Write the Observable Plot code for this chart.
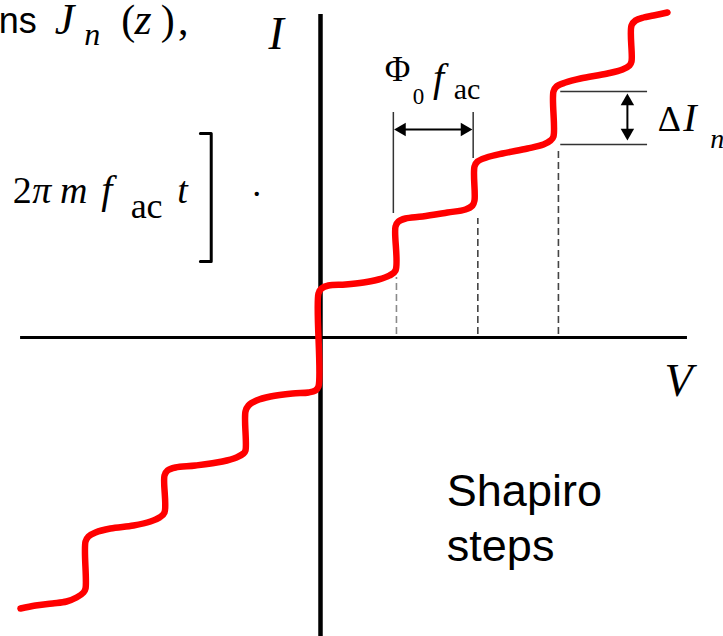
<!DOCTYPE html>
<html>
<head>
<meta charset="utf-8">
<script src="https://cdn.jsdelivr.net/npm/d3@7"></script>
<script src="https://cdn.jsdelivr.net/npm/@observablehq/plot@0.6"></script>
<style>
  html, body { margin: 0; padding: 0; background: #fff; }
  #chart { width: 723px; height: 636px; overflow: hidden; }
  #chart svg { display: block; overflow: hidden; }
</style>
</head>
<body>
<div id="chart"></div>
<script>
// I–V characteristic of a Josephson junction under microwave drive:
// V in units of Φ0·f_ac (one Shapiro step per unit), I in arbitrary units.
// Each row is one plateau, ending at the foot of the next vertical step.
const curveV = [
  -3.871, -3.677, -3.458, -3.277, -3.148, -3.058, -3.032,
  -3.032, -2.994, -2.903, -2.710, -2.413, -2.194, -2.077, -2.013,
  -2.013, -1.974, -1.871, -1.613, -1.265, -1.084, -0.994, -0.968,
  -0.968, -0.929, -0.826, -0.645, -0.361, -0.155, -0.065, -0.026,
  -0.026, 0.013, 0.103, 0.323, 0.555, 0.748, 0.890, 0.968,
  0.968, 1.006, 1.097, 1.316, 1.639, 1.871, 1.961, 1.987,
  1.987, 2.026, 2.142, 2.348, 2.671, 2.877, 2.968, 3.006,
  3.006, 3.045, 3.161, 3.355, 3.703, 3.897, 3.987, 4.013,
  4.013, 4.065, 4.168, 4.297, 4.477
];
const curveI = [
  -5.42, -5.36, -5.32, -5.28, -5.20, -5.10, -5.02,
  -4.08, -3.98, -3.90, -3.82, -3.76, -3.68, -3.60, -3.50,
  -2.76, -2.66, -2.60, -2.56, -2.48, -2.40, -2.32, -2.26,
  -1.48, -1.36, -1.26, -1.18, -1.12, -1.10, -1.06, -0.98,
  0.88, 0.98, 1.04, 1.06, 1.10, 1.16, 1.24, 1.34,
  2.22, 2.32, 2.38, 2.42, 2.50, 2.56, 2.64, 2.74,
  3.42, 3.52, 3.60, 3.68, 3.78, 3.86, 3.94, 4.02,
  4.92, 5.02, 5.10, 5.18, 5.28, 5.36, 5.44, 5.52,
  6.24, 6.34, 6.40, 6.44, 6.50
];

// Step voltages marked with dashed drop lines, and the current at the foot of each step
const guideV = [0.98, 2.03, 3.07];
const guideTopI = [1.20, 2.38, 3.80];
const guideColor = ["#8a8a8a", "#444", "#444"];

// Φ0·f_ac spacing marker (between steps 1 and 2)
const spacingV = [0.94, 1.97];
const spacingTopI = 4.50;
const spacingBottomI = [2.48, 3.58];
const spacingArrowI = 4.16;

// ΔI_n height marker (step 3)
const heightI = [4.92, 3.86];
const heightV = [3.10, 4.22];
const heightArrowV = 3.96;
const heightArrowI = [4.88, 3.94];

// Axis extents
const axisV = [-3.87, 4.735];
const axisI = [-6.2, 6.46];

const ivCurve = curveV.map((v, i) => ({V: v, I: curveI[i]}));
const guides = guideV.map((v, i) => ({V: v, top: guideTopI[i], color: guideColor[i]}));

// Filled arrow heads: the dot sits one centroid-offset behind each tip
const headBackV = 0.10, headBackI = 0.155;
const arrowHeads = [
  {V: spacingV[0] + 0.01 + headBackV, I: spacingArrowI, rotate: -90},
  {V: spacingV[1] - 0.01 - headBackV, I: spacingArrowI, rotate: 90},
  {V: heightArrowV, I: heightArrowI[0] - headBackI, rotate: 0},
  {V: heightArrowV, I: heightArrowI[1] + headBackI, rotate: 180}
];

const serif = "'Liberation Serif', 'DejaVu Serif', serif";
const sans = "'Liberation Sans', Arial, sans-serif";

// Text pieces: [text, V, I (baseline), size, italic]
const mathLabels = [
  // I and V axis names
  ["I", -0.67, 5.78, 46, true],
  ["V", 4.44, -1.16, 46, true],
  // Φ0 f_ac
  ["Φ", 0.83, 5.14, 35, false],
  ["0", 1.19, 4.68, 23, false],
  ["f", 1.45, 4.94, 40, true],
  ["ac", 1.72, 4.78, 30, false],
  // ΔI_n
  ["Δ", 4.35, 4.14, 36, false],
  ["I", 4.68, 4.14, 40, true],
  ["n", 5.03, 3.80, 28, true],
  // J_n(z),
  ["J", -3.43, 6.08, 44, true],
  ["n", -3.05, 5.86, 32, true],
  ["(", -2.57, 6.08, 42, false],
  ["z", -2.40, 6.08, 44, true],
  [")", -2.06, 6.08, 42, false],
  [",", -1.84, 6.08, 42, false],
  // 2π m f_ac t ] .
  ["2", -3.97, 2.70, 38, false],
  ["π", -3.72, 2.70, 38, true],
  ["m", -3.36, 2.70, 38, true],
  ["f", -2.83, 2.70, 40, true],
  ["ac", -2.45, 2.40, 36, false],
  ["t", -1.85, 2.70, 38, true],
  [".", -0.88, 2.84, 36, false]
].map(([text, V, I, size, italic]) => ({text, V, I, size, italic}));

const bracket = [
  {V: -1.55, I: 4.08}, {V: -1.41, I: 4.08},
  {V: -1.41, I: 1.52}, {V: -1.55, I: 1.52}
];

const chart = Plot.plot({
  width: 723,
  height: 636,
  margin: 0,
  x: {domain: [-320 / 77.5, 403 / 77.5], axis: null},
  y: {domain: [-299 / 50, 337 / 50], axis: null},
  marks: [
    // axes
    Plot.ruleY([0], {x1: axisV[0], x2: axisV[1], stroke: "#000", strokeWidth: 3}),
    Plot.ruleX([0], {y1: axisI[0], y2: axisI[1], stroke: "#000", strokeWidth: 4.5}),

    // dashed drop lines from the steps to the V axis
    Plot.ruleX(guides, {x: "V", y1: 0.06, y2: "top", stroke: "color", strokeWidth: 1.6, strokeDasharray: "7,4"}),

    // Φ0 f_ac spacing marker
    Plot.ruleX(spacingV, {x: d => d, y1: (d, i) => spacingBottomI[i], y2: spacingTopI, stroke: "#333", strokeWidth: 1.5}),
    Plot.ruleY([spacingArrowI], {y: d => d, x1: spacingV[0] + 0.12, x2: spacingV[1] - 0.12, stroke: "#000", strokeWidth: 2}),

    // ΔI_n marker
    Plot.ruleY(heightI, {y: d => d, x1: heightV[0], x2: heightV[1], stroke: "#333", strokeWidth: 1.5}),
    Plot.ruleX([heightArrowV], {x: d => d, y1: heightArrowI[1] + 0.2, y2: heightArrowI[0] - 0.2, stroke: "#000", strokeWidth: 2}),

    Plot.dot(arrowHeads, {x: "V", y: "I", rotate: "rotate", symbol: "triangle", r: 5, fill: "#000", stroke: null}),

    // I–V curve
    Plot.line(ivCurve, {x: "V", y: "I", stroke: "#ff0000", strokeWidth: 6.5, curve: "catmull-rom", strokeLinejoin: "round"}),

    // math text
    Plot.text(mathLabels.filter(d => d.italic), {
      x: "V", y: "I", text: "text", fontSize: "size", textAnchor: "start", lineAnchor: "bottom",
      fontFamily: serif, fontStyle: "italic", fill: "#000"
    }),
    Plot.text(mathLabels.filter(d => !d.italic), {
      x: "V", y: "I", text: "text", fontSize: "size", textAnchor: "start", lineAnchor: "bottom",
      fontFamily: serif, fill: "#000"
    }),
    Plot.line(bracket, {x: "V", y: "I", stroke: "#000", strokeWidth: 3}),

    // plain-text fragments
    Plot.text(["ns"], {x: -3.66, y: 6.10, text: d => d, fontSize: 36, textAnchor: "end", lineAnchor: "bottom", fontFamily: sans, fill: "#000"}),
    Plot.text(["Shapiro", "steps"], {
      x: 1.63, y: (d, i) => -3.36 - 1.1 * i, text: d => d, fontSize: 45,
      textAnchor: "start", lineAnchor: "bottom", fontFamily: sans, fill: "#000"
    })
  ]
});

document.getElementById("chart").appendChild(chart);
</script>
</body>
</html>
